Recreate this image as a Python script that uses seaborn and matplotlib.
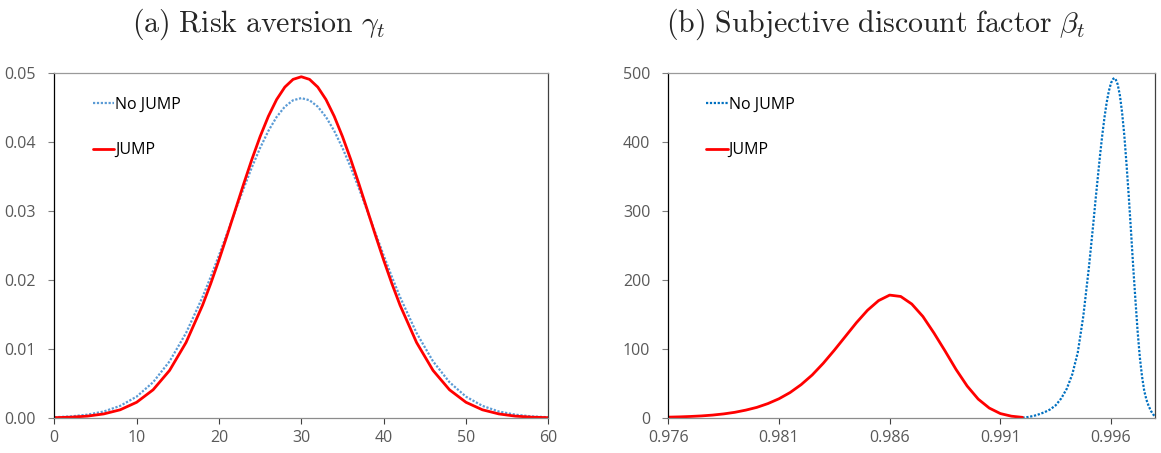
import numpy as np
import pandas as pd
import matplotlib
matplotlib.use("Agg")
import matplotlib.pyplot as plt
import seaborn as sns

# ---------------- data ----------------
# Panel (a): risk aversion gamma_t
gamma_x = [0, 2, 4, 6, 8, 10, 12, 14, 16, 18,
           19, 20, 21, 22, 23, 24, 25, 26, 27, 28, 29, 30,
           31, 32, 33, 34, 35, 36, 37, 38, 39, 40, 41,
           42, 44, 46, 48, 50, 52, 54, 56, 58, 60]
gamma_nojump = [0.00011, 0.00023, 0.00048, 0.00094, 0.00176, 0.00310, 0.00519, 0.00822, 0.01233, 0.01753,
                0.02048, 0.02360, 0.02683, 0.03010, 0.03331, 0.03638, 0.03918, 0.04164, 0.04366, 0.04516, 0.04609, 0.04640,
                0.04609, 0.04516, 0.04366, 0.04164, 0.03918, 0.03638, 0.03331, 0.03010, 0.02683, 0.02360, 0.02048,
                0.01753, 0.01233, 0.00822, 0.00519, 0.00310, 0.00176, 0.00094, 0.00048, 0.00023, 0.00011]
gamma_jump = [0.00005, 0.00012, 0.00027, 0.00059, 0.00119, 0.00228, 0.00409, 0.00690, 0.01095, 0.01634,
              0.01950, 0.02292, 0.02653, 0.03024, 0.03395, 0.03752, 0.04083, 0.04376, 0.04619, 0.04800, 0.04912, 0.04950,
              0.04912, 0.04800, 0.04619, 0.04376, 0.04083, 0.03752, 0.03395, 0.03024, 0.02653, 0.02292, 0.01950,
              0.01634, 0.01095, 0.00690, 0.00409, 0.00228, 0.00119, 0.00059, 0.00027, 0.00012, 0.00005]

# Panel (b): subjective discount factor beta_t
beta_x_jump = [0.9760, 0.9765, 0.9770, 0.9775, 0.9780, 0.9785, 0.9790, 0.9795, 0.9800, 0.9805,
               0.9810, 0.9815, 0.9820, 0.9825, 0.9830, 0.9835, 0.9840, 0.9845, 0.9850, 0.9855,
               0.9860, 0.9865, 0.9870, 0.9875, 0.9880, 0.9885, 0.9890, 0.9895, 0.9900, 0.9905,
               0.9910, 0.9915, 0.9920]
beta_jump = [0.8, 1.2, 1.8, 2.6, 3.8, 5.5, 7.8, 11, 15, 20.5,
             27.5, 36.5, 48, 62, 79, 98, 118, 138, 156, 170,
             178, 176, 165, 147, 123, 97, 70, 46, 27, 14,
             6, 2.2, 0.5]
beta_x_nojump = [0.99200, 0.99225, 0.99250, 0.99275, 0.99300, 0.99325, 0.99350, 0.99375, 0.99400, 0.99425,
                 0.99450, 0.99475, 0.99500, 0.99510, 0.99520, 0.99530, 0.99540, 0.99550, 0.99560, 0.99570,
                 0.99580, 0.99590, 0.99600, 0.99610, 0.99615, 0.99620, 0.99630, 0.99640, 0.99650, 0.99660,
                 0.99670, 0.99680, 0.99690, 0.99700, 0.99710, 0.99720, 0.99730, 0.99740, 0.99750, 0.99760,
                 0.99770, 0.99780, 0.99790, 0.99800]
beta_nojump = [0, 1, 2.5, 5, 8, 12, 18, 28, 42, 63,
               95, 148, 218, 250, 282, 316, 348, 380, 409, 435,
               457, 474, 486, 492, 493, 492, 484, 468, 443, 410,
               368, 322, 272, 220, 172, 126, 88, 60, 39, 26,
               17, 10, 5, 1]

gamma_xticks = [0, 10, 20, 30, 40, 50, 60]
gamma_yticks = [0.00, 0.01, 0.02, 0.03, 0.04, 0.05]
gamma_ylabels = ["0.00", "0.01", "0.02", "0.03", "0.04", "0.05"]
beta_xticks = [0.976, 0.981, 0.986, 0.991, 0.996]
beta_xlabels = ["0.976", "0.981", "0.986", "0.991", "0.996"]
beta_yticks = [0, 100, 200, 300, 400, 500]
series_names = ["No JUMP", "JUMP"]
titles = [r"$\mathrm{(a)\ Risk\ aversion}\ \gamma_t$",
          r"$\mathrm{(b)\ Subjective\ discount\ factor}\ \beta_t$"]

# ---------------- styling ----------------
sns.set_theme(style="white")
plt.rcParams['font.family'] = ['Open Sans', 'DejaVu Sans']
plt.rcParams['mathtext.fontset'] = 'cm'

W, H = 1161, 453
fig = plt.figure(figsize=(W / 100, H / 100), dpi=100)
ax1 = fig.add_axes([54.3 / W, 1 - 418 / H, 494 / W, 344.7 / H])
ax2 = fig.add_axes([668.3 / W, 1 - 417.7 / H, 487 / W, 344.4 / H])

RED = "#FF0000"
BLUE_A = "#5B9BD5"
BLUE_B = "#0070C0"
dot = (0, (1, 0.75))

df_a = pd.DataFrame({"x": gamma_x, "nojump": gamma_nojump, "jump": gamma_jump})
sns.lineplot(data=df_a, x="x", y="nojump", ax=ax1, color=BLUE_A, linestyle=dot,
             linewidth=1.6, label=series_names[0])
sns.lineplot(data=df_a, x="x", y="jump", ax=ax1, color=RED, linewidth=2.0,
             label=series_names[1])

df_b1 = pd.DataFrame({"x": beta_x_nojump, "y": beta_nojump})
df_b2 = pd.DataFrame({"x": beta_x_jump, "y": beta_jump})
sns.lineplot(data=df_b1, x="x", y="y", ax=ax2, color=BLUE_B, linestyle=dot,
             linewidth=1.6, label=series_names[0])
sns.lineplot(data=df_b2, x="x", y="y", ax=ax2, color=RED, linewidth=2.0,
             label=series_names[1])

ax1.set_xlim(0, 60)
ax1.set_ylim(0, 0.05)
ax1.set_xticks(gamma_xticks)
ax1.set_yticks(gamma_yticks)
ax1.set_yticklabels(gamma_ylabels)

ax2.set_xlim(0.976, 0.998)
ax2.set_ylim(0, 500)
ax2.set_xticks(beta_xticks)
ax2.set_xticklabels(beta_xlabels)
ax2.set_yticks(beta_yticks)

for ax in (ax1, ax2):
    ax.set_xlabel("")
    ax.set_ylabel("")
    ax.grid(False)
    ax.spines['left'].set_color('black')
    ax.spines['bottom'].set_color('#8C8C8C')
    ax.spines['top'].set_color('#9A9A9A')
    ax.spines['right'].set_color('#404040')
    for s in ax.spines.values():
        s.set_linewidth(0.9)
    ax.tick_params(axis='y', left=True, direction='out', length=4, width=0.8,
                   color='#808080', pad=9, labelsize=11.5, labelcolor='#595959')
    ax.tick_params(axis='x', bottom=True, direction='out', length=4, width=0.8,
                   color='#404040', pad=5, labelsize=11.5, labelcolor='#595959')
    leg = ax.legend(loc='upper left', bbox_to_anchor=(0.078, 0.932), frameon=False,
                    handlelength=1.35, handletextpad=0.05, labelspacing=1.85,
                    borderpad=0, borderaxespad=0, fontsize=11.5)
    for t in leg.get_texts():
        t.set_color('black')

fig.text(259 / W, 1 - 24 / H, titles[0], ha='center', va='center', fontsize=21.5)
fig.text(876 / W, 1 - 24 / H, titles[1], ha='center', va='center', fontsize=21.5)

fig.savefig("out.png", dpi=100)
